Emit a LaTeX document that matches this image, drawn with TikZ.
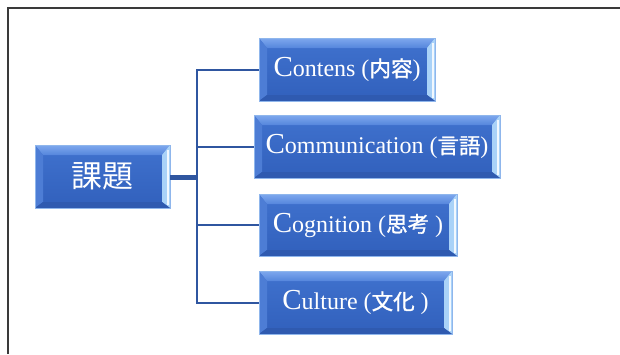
\documentclass[tikz,border=0pt]{standalone}
\usepackage{fontspec}
\setmainfont{Liberation Serif}
\newfontfamily\cjkjp{Noto Sans CJK JP}
\newfontfamily\cjkjpm{Noto Sans CJK JP}[FakeBold=1.3]
\definecolor{frameGray}{HTML}{3A3A3A}
\definecolor{lineBlue}{HTML}{2F56A0}
\definecolor{faceTop}{HTML}{4072CE}
\definecolor{faceBot}{HTML}{3160BC}
\definecolor{bandTopA}{HTML}{7EA8EE}
\definecolor{bandTopB}{HTML}{5586DC}
\definecolor{bandLeft}{HTML}{4D7DD5}
\definecolor{bandRight}{HTML}{A9D2F8}
\definecolor{bandBot}{HTML}{2F5AB0}
\definecolor{edgeLight}{HTML}{8FB6EC}
\newcommand{\bigCap}[1]{{\fontsize{29}{29}\selectfont #1}}
\newcommand{\jp}[1]{{\cjkjpm\fontsize{21.5}{21.5}\selectfont #1}}
\tikzset{
  bevelbox/.style={
    minimum height=63pt, inner sep=0pt, text=white,
    font=\fontsize{24}{24}\selectfont,
    shade, top color=faceTop, bottom color=faceBot,
    draw=edgeLight, line width=0.6pt,
    path picture={
      \coordinate (NW) at (path picture bounding box.north west);
      \coordinate (NE) at (path picture bounding box.north east);
      \coordinate (SW) at (path picture bounding box.south west);
      \coordinate (SE) at (path picture bounding box.south east);
      \shade[top color=bandTopA, bottom color=bandTopB]
        (NW) -- (NE) -- ([xshift=-8pt,yshift=-10pt]NE) -- ([xshift=8pt,yshift=-10pt]NW) -- cycle;
      \fill[bandLeft]
        (NW) -- ([xshift=8pt,yshift=-10pt]NW) -- ([xshift=8pt,yshift=6pt]SW) -- (SW) -- cycle;
      \fill[bandRight]
        (NE) -- ([xshift=-8pt,yshift=-10pt]NE) -- ([xshift=-8pt,yshift=6pt]SE) -- (SE) -- cycle;
      \fill[white!85!bandRight]
        ([xshift=-3pt,yshift=-5pt]NE) rectangle ([xshift=-1.5pt,yshift=3pt]SE);
      \fill[bandBot]
        (SW) -- ([xshift=8pt,yshift=6pt]SW) -- ([xshift=-8pt,yshift=6pt]SE) -- (SE) -- cycle;
    }
  },
  branch/.style={draw=lineBlue, line width=2pt},
  trunk/.style={draw=lineBlue, line width=5pt}
}
\begin{document}
\begin{tikzpicture}[x=1pt,y=-1pt]
  \useasboundingbox (0,0) rectangle (620,354);
  \draw[frameGray, line width=1.6pt] (7.7,354) -- (7.7,7.7) -- (620,7.7);

  \node[bevelbox, minimum width=135pt] (root) at (102.5,176.5)
    {{\cjkjp\fontsize{31}{31}\selectfont 課題}};
  \node[bevelbox, minimum width=176pt] (c1) at (347,69.5)
    {\bigCap{C}ontens (\jp{内容})};
  \node[bevelbox, minimum width=246pt] (c2) at (377,146.5)
    {\bigCap{C}ommunication (\jp{言語})};
  \node[bevelbox, minimum width=198pt, minimum height=62pt] (c3) at (358,225)
    {\bigCap{C}ognition (\jp{思考} )};
  \node[bevelbox, minimum width=193pt] (c4) at (355.5,302.5)
    {\bigCap{C}ulture (\jp{文化} )};

  \coordinate (j) at (197,177);
  \draw[trunk] (root.east |- j) -- ([xshift=1pt]j);
  \draw[branch] (c1.west) -| (j) |- (c4.west);
  \draw[branch] (j) |- (c2.west);
  \draw[branch] (j) |- (c3.west);
\end{tikzpicture}
\end{document}
